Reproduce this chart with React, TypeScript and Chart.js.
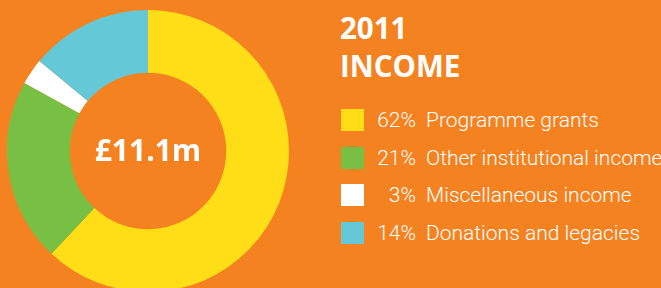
import React, { useEffect, useRef } from "react";
import { Chart, registerables } from "chart.js";

Chart.register(...registerables);

const categories = ["Programme grants", "Other institutional income", "Miscellaneous income", "Donations and legacies"];
const percentages = [62, 21, 3, 14];
const colors = ["#FFDE17", "#78C043", "#FFFFFF", "#64C8D6"];
const centerLabel = "£11.1m";
const titleLines = ["2011", "INCOME"];
const BG = "#F58220";

const centerTextPlugin = {
  id: "centerText",
  afterDraw(chart: any) {
    const { ctx, chartArea } = chart;
    const cx = (chartArea.left + chartArea.right) / 2;
    const cy = (chartArea.top + chartArea.bottom) / 2;
    ctx.save();
    ctx.fillStyle = "#FFFFFF";
    ctx.font = "bold 30px 'Open Sans', sans-serif";
    ctx.textAlign = "center";
    ctx.textBaseline = "middle";
    ctx.fillText(centerLabel, cx, cy + 1);
    ctx.restore();
  },
};

export default function App() {
  const ref = useRef<HTMLCanvasElement>(null);
  useEffect(() => {
    if (!ref.current) return;
    const chart = new Chart(ref.current, {
      type: "doughnut",
      data: {
        labels: categories,
        datasets: [
          {
            data: percentages,
            backgroundColor: colors,
            borderWidth: 0,
          },
        ],
      },
      options: {
        animation: false,
        responsive: false,
        cutout: "55.5%",
        layout: { padding: 0 },
        plugins: { legend: { display: false }, tooltip: { enabled: false } },
      },
      plugins: [centerTextPlugin],
    });
    return () => chart.destroy();
  }, []);

  return (
    <div
      style={{
        position: "fixed",
        left: 0,
        top: 0,
        width: 661,
        height: 288,
        overflow: "hidden",
        background: BG,
      }}
    >
      <canvas
        ref={ref}
        width={282}
        height={282}
        style={{ position: "absolute", left: 7, top: 10, width: 282, height: 282 }}
      />
      <div
        style={{
          position: "absolute",
          left: 340,
          top: 9,
          color: "#FFFFFF",
          fontFamily: "'Open Sans', sans-serif",
          fontWeight: 700,
          fontSize: 29.5,
          lineHeight: "38px",
        }}
      >
        {titleLines.map((t) => (
          <div key={t}>{t}</div>
        ))}
      </div>
      <div style={{ position: "absolute", left: 341, top: 109 }}>
        {categories.map((c, i) => (
          <div
            key={c}
            style={{
              display: "flex",
              alignItems: "center",
              height: 22,
              marginBottom: 15.5,
              color: "#FFFFFF",
              fontFamily: "'Roboto', sans-serif",
              fontWeight: 300,
              fontSize: 21,
              whiteSpace: "nowrap",
            }}
          >
            <span style={{ width: 23, height: 22, background: colors[i], display: "inline-block", flex: "none" }} />
            <span style={{ width: 45, textAlign: "right", display: "inline-block", marginLeft: 7, flex: "none" }}>
              {percentages[i]}%
            </span>
            <span style={{ marginLeft: 10 }}>{c}</span>
          </div>
        ))}
      </div>
    </div>
  );
}
